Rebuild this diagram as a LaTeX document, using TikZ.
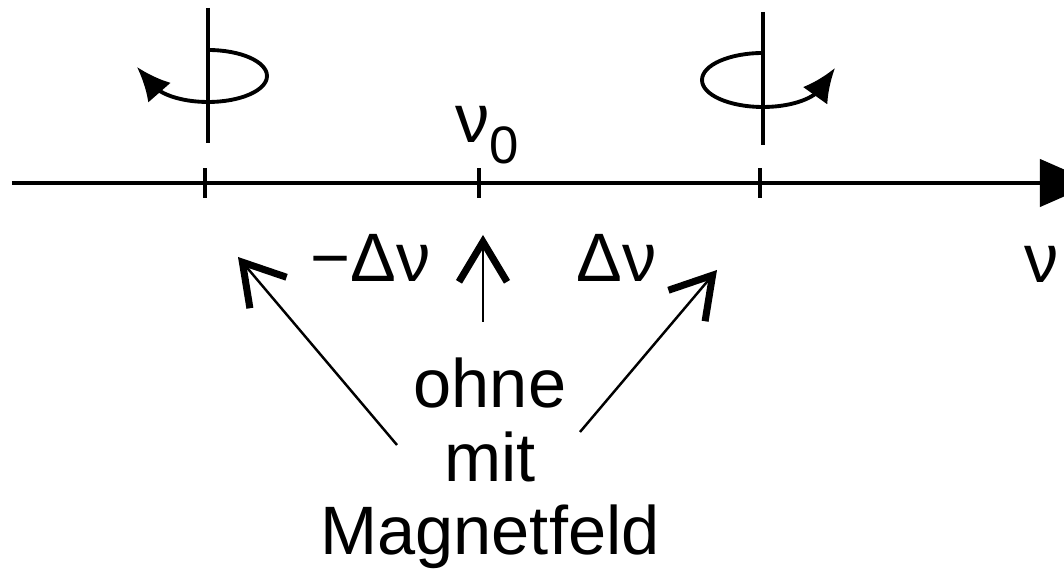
\documentclass[tikz,border=0pt]{standalone}
\usepackage{fontspec}
\setmainfont{Liberation Sans}
\usetikzlibrary{arrows.meta}

\begin{document}
\begin{tikzpicture}[every node/.style={font=\fontsize{19.5}{21}\selectfont, inner sep=0pt},
    tickmark/.style={line width=1.1pt},
    spin/.style={line width=1.1pt, -{Latex[length=3.4mm,width=3mm]}},
    pointer/.style={line width=0.7pt, -{Straight Barb[length=4mm,width=4.8mm,line width=2pt]}}]
      \useasboundingbox (0,0) rectangle (10.64,5.72);
      % frequency axis
      \coordinate (start) at (0.12,3.89);
      \coordinate (end) at (10.95,3.89);
      \draw[line width=1.2pt,-{Triangle[length=5.5mm,width=4.7mm]}] (start) -- (end);
      \coordinate (minus) at (2.05,3.89);
      \coordinate (zero) at (4.79,3.89);
      \coordinate (plus) at (7.60,3.89);
      \foreach \p in {minus,zero,plus}
        \draw[tickmark] ([yshift=-0.15cm]\p) -- ([yshift=0.15cm]\p);
      \node[anchor=base west] (nu) at (10.24,2.89) {ν};
      \node[anchor=base west] (nuzero) at (4.55,4.29) {ν\raisebox{-5.7pt}{\fontsize{15}{15}\selectfont 0}};
      % rotation sense
      \draw[line width=1pt] (2.08,5.64) -- (2.08,4.29);
      \draw[spin] (2.08,5.22) arc[start angle=90, end angle=-155, x radius=0.59, y radius=0.26] -- (1.37,5.05);
      \draw[line width=1pt] (7.63,5.60) -- (7.63,4.27);
      \draw[spin] (7.63,5.19) arc[start angle=90, end angle=335, x radius=0.61, y radius=0.27] -- (8.35,5.04);
      % shifts
      \node[anchor=base] (lower) at (3.71,2.90) {−Δν};
      \node[anchor=base] (upper) at (6.17,2.90) {Δν};
      \node[align=center, anchor=base] (field) at (4.90,0.17) {ohne\\mit\\Magnetfeld};
      \coordinate (ltail) at (3.97,1.27);
      \coordinate (lhead) at (2.38,3.15);
      \coordinate (ctail) at (4.83,2.50);
      \coordinate (chead) at (4.83,3.37);
      \coordinate (rtail) at (5.80,1.40);
      \coordinate (rhead) at (7.17,3.02);
      \draw[pointer] (ltail) -- (lhead);
      \draw[pointer] (ctail) -- (chead);
      \draw[pointer] (rtail) -- (rhead);
    \end{tikzpicture}
\end{document}
